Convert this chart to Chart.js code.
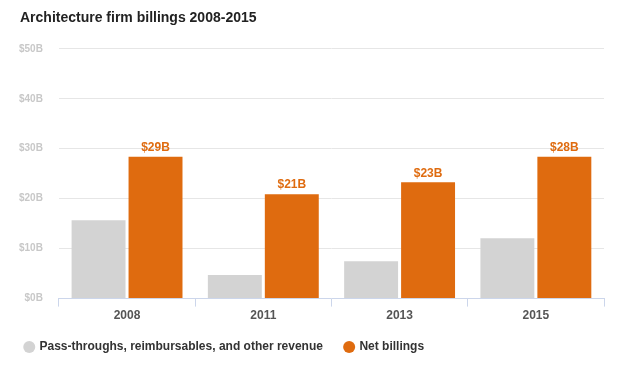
<!DOCTYPE html>
<html lang="en">
<head>
  <meta charset="UTF-8" />
  <title>Architecture firm billings 2008-2015</title>
  <script src="https://cdn.jsdelivr.net/npm/chart.js"></script>
  <style>
    html, body { margin: 0; padding: 0; background: #fff; }
    .wrap { width: 620px; height: 387px; position: relative; }
  </style>
</head>
<body>
  <div class="wrap">
    <canvas id="chart" width="620" height="387"></canvas>
  </div>

  <script>
    const years = ['2008', '2011', '2013', '2015'];
    const passThroughs = [15.7, 4.7, 7.5, 12.1];
    const netBillings = [28.4, 20.9, 23.3, 28.4];
    const netLabels = ['$29B', '$21B', '$23B', '$28B'];
    const titleText = 'Architecture firm billings 2008-2015';

    const font = '"Liberation Sans", Arial, Helvetica, sans-serif';
    const orange = '#df6b0f';
    const grey = '#d3d3d3';

    // labels above the orange bars, and the title drawn at x=20
    const extras = {
      id: 'extras',
      afterDatasetsDraw(chart) {
        const ctx = chart.ctx;
        const meta = chart.getDatasetMeta(1);
        ctx.save();
        ctx.font = 'bold 12px ' + font;
        ctx.fillStyle = orange;
        ctx.textAlign = 'center';
        ctx.textBaseline = 'middle';
        meta.data.forEach((bar, i) => {
          ctx.fillText(netLabels[i], bar.x, bar.y - 9);
        });
        const tb = chart.titleBlock;
        ctx.font = 'bold 14px ' + font;
        ctx.fillStyle = '#222';
        ctx.textAlign = 'left';
        ctx.fillText(titleText, 20, tb.top + 11 + 7);
        ctx.restore();
      }
    };

    Chart.defaults.font.family = font;
    Chart.defaults.animation = false;

    new Chart(document.getElementById('chart'), {
      type: 'bar',
      data: {
        labels: years,
        datasets: [
          {
            label: 'Pass-throughs, reimbursables, and other revenue',
            data: passThroughs,
            backgroundColor: grey,
            barPercentage: 0.947,
            categoryPercentage: 0.836
          },
          {
            label: 'Net billings',
            data: netBillings,
            backgroundColor: orange,
            barPercentage: 0.947,
            categoryPercentage: 0.836
          }
        ]
      },
      options: {
        responsive: false,
        layout: { padding: { left: 3, right: 16, top: 0, bottom: 24 } },
        plugins: {
          title: {
            display: true,
            text: titleText,
            align: 'start',
            color: 'rgba(0,0,0,0)',
            font: { size: 14, weight: 'bold' },
            padding: { top: 11, bottom: 21 }
          },
          legend: {
            position: 'bottom',
            align: 'start',
            labels: {
              usePointStyle: true,
              pointStyle: 'circle',
              boxWidth: 8.5,
              boxHeight: 8.5,
              color: '#333',
              font: { size: 12, weight: 'bold' },
              padding: 22
            }
          },
          tooltip: { enabled: false }
        },
        scales: {
          x: {
            grid: {
              offset: true,
              drawOnChartArea: false,
              drawTicks: true,
              tickLength: 8,
              color: '#ccd6eb'
            },
            border: { color: '#ccd6eb' },
            ticks: {
              color: '#555',
              font: { size: 12, weight: 'bold' },
              padding: 2
            },
            afterFit(scale) { scale.height -= 6; }
          },
          y: {
            min: 0,
            max: 50,
            ticks: {
              stepSize: 10,
              padding: 16,
              color: '#c8c8c8',
              font: { size: 10, weight: 'bold' },
              callback: v => '$' + v + 'B'
            },
            grid: { color: '#e6e6e6', drawTicks: false },
            border: { display: false }
          }
        }
      },
      plugins: [extras]
    });
  </script>
</body>
</html>
